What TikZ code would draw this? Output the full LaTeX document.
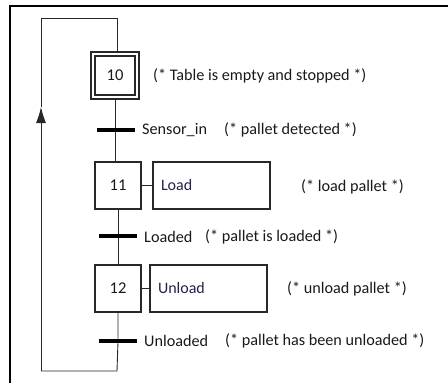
\documentclass[tikz,border=0pt]{standalone}
\usepackage{fontspec}
\setmainfont{Carlito}
\usetikzlibrary{
  arrows.meta,
  positioning,
}
\definecolor{cLine}{RGB}{40,40,40}
\definecolor{cText}{RGB}{25,25,25}
\definecolor{cAct}{RGB}{40,30,75}
\tikzset{
  % Step box
  stepbox/.style={
    rectangle, draw=cLine, line width=1.6pt,
    minimum width=46pt, minimum height=47pt,
    font=\fontsize{16.5}{19}\selectfont, text=cText,
    inner sep=0pt,
  },
  % Initial step (double frame)
  initstep/.style={
    stepbox, double=white, double distance=2.6pt, line width=1.5pt,
    minimum width=44pt, minimum height=43pt,
  },
  % Action box
  actbox/.style={
    rectangle, draw=cLine, line width=1.6pt,
    minimum width=117pt, minimum height=47pt,
    font=\fontsize{16}{19}\selectfont, text=cAct,
    text width=101pt, align=left, inner sep=0pt,
  },
  % Transition bar
  trans/.style={
    rectangle, fill=black, draw=none,
    minimum width=38pt, minimum height=4.5pt, inner sep=0pt,
  },
  % Texts
  lab/.style={font=\fontsize{16.2}{19}\selectfont, text=cText, anchor=west, inner sep=0pt},
  % Lines
  link/.style={draw=cLine, line width=0.9pt},
  arr/.style={-{Latex[length=16pt,width=10pt]}, link},
}

\begin{document}
\begin{tikzpicture}[x=1pt, y=-1pt]
\useasboundingbox (0,0) rectangle (448,383);

% ── Frame ─────────────────────────────────────────────────────────────────────
\draw[line width=1.8pt] (10,383) -- (10,6) -- (448,6);

% ── Steps ─────────────────────────────────────────────────────────────────────
\node[initstep] (s10) at (115,75.5) {10};
\node[stepbox] (s11) at (118,185.5) {11};
\node[stepbox] (s12) at (118,288.5) {12};

% Actions
\node[actbox] (a11) at (211.5,185.5) {Load};
\node[actbox] (a12) at (208.5,288.5) {Unload};

% ── Transitions ───────────────────────────────────────────────────────────────
\node[trans] (t1) at (115.5,130) {};
\node[trans] (t2) at (118,236) {};
\node[trans] (t3) at (118,341) {};

% ── Labels ────────────────────────────────────────────────────────────────────
\node[lab] (c10) at (153,76) {(* Table is empty and stopped *)};
\node[lab] (r1) at (142,130) {Sensor\_in};
\node[lab] (c1) at (224,130) {(* pallet detected *)};
\node[lab] (c11) at (301,187) {(* load pallet *)};
\node[lab] (r2) at (144,237) {Loaded};
\node[lab] (c2) at (205,237) {(* pallet is loaded *)};
\node[lab] (c12) at (287,289) {(* unload pallet *)};
\node[lab] (r3) at (144,341) {Unloaded};
\node[lab] (c3) at (225,341) {(* pallet has been unloaded *)};

% ── Links ─────────────────────────────────────────────────────────────────────
\coordinate (ltop) at (117,18);
\coordinate (lbot) at (117,371);
\coordinate (lbl) at (41,371);
\coordinate (ltl) at (41,18);
\coordinate (lup) at (41,107);

\draw[link] (s10.south -| t1) -- (t1) -- (s11.north -| t1);
\draw[link] (s11) -- (t2) -- (s12);
\draw[link] (s12) -- (t3) -- (lbot) -- (lbl);
\draw[arr] (lbl) -- (lup);
\draw[link] (lup) -- (ltl) -- (ltop) -- (s10.north -| ltop);

\draw[link] (s11.east) -- (a11.west);
\draw[link] (s12.east) -- (a12.west);

\end{tikzpicture}
\end{document}
